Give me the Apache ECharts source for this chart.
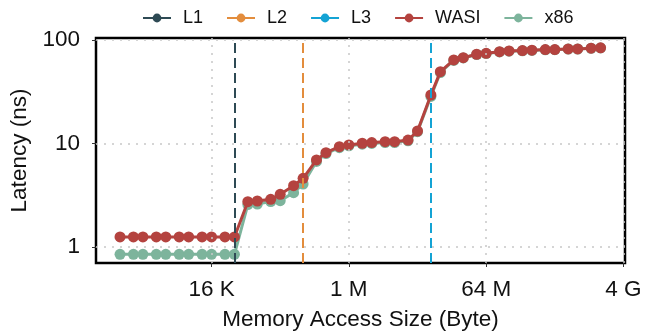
<!DOCTYPE html>
<html>
<head>
<meta charset="utf-8">
<script src="https://cdn.jsdelivr.net/npm/echarts@6/dist/echarts.min.js"></script>
<style>
html,body{margin:0;padding:0;background:#fff;}
#c{width:657px;height:333px;}
</style>
</head>
<body>
<div id="c"></div>
<script>
// Memory access sizes in bytes
const sizes = [1024, 1536, 2048, 3072, 4096, 6144, 8192, 12288, 16384, 24576, 32768,
  49152, 65536, 98304, 131072, 196608, 262144, 393216, 524288, 786432, 1048576,
  1572864, 2097152, 3145728, 4194304, 6291456, 8388608, 12582912, 16777216, 25165824, 33554432,
  50331648, 67108864, 100663296, 134217728, 201326592, 268435456, 402653184, 536870912, 805306368, 1073741824,
  1610612736, 2147483648];
const wasi = [1.25, 1.25, 1.25, 1.25, 1.25, 1.25, 1.25, 1.25, 1.25, 1.25, 1.25,
  2.74, 2.78, 2.89, 3.23, 3.91, 4.61, 6.93, 8.15, 9.31, 9.68,
  10.05, 10.2, 10.4, 10.4, 10.8, 13.2, 29.4, 49.4, 64.1, 67.4,
  72.8, 74.4, 77.1, 78.4, 79.0, 79.6, 80.8, 80.8, 82.0, 82.0,
  83.3, 84.0];
const x86 = [0.85, 0.85, 0.85, 0.85, 0.85, 0.85, 0.85, 0.85, 0.85, 0.85, 0.85,
  2.57, 2.60, 2.75, 2.80, 3.35, 4.06, 6.7, 8.0, 9.1, 9.5,
  9.85, 10.0, 10.2, 10.2, 10.6, 13.0, 28.5, 48.5, 63.5, 67.0,
  72.3, 74.0, 76.7, 78.0, 78.7, 79.3, 80.4, 80.5, 81.6, 81.7,
  83.0, 83.7];
const cacheNames = ['L1', 'L2', 'L3'];
const cacheSizes = [32768, 262144, 12582912];
const xTickValues = [16384, 1048576, 67108864, 4294967296];
const xTickLabels = ['16 K', '1 M', '64 M', '4 G'];
const yTickValues = [1, 10, 100];
const xRange = [494.6, 4.5e9];
const yRange = [0.70, 104.5];

const cacheColors = ['#2e4a54', '#e38d3d', '#14a3d4'];
const FONT = 'Liberation Sans';

const chart = echarts.init(document.getElementById('c'), null, {renderer: 'canvas'});

const series = [];
cacheNames.forEach((n, i) => {
  series.push({
    name: n, type: 'line', data: [], symbol: 'circle', symbolSize: 11,
    itemStyle: {color: cacheColors[i]}, lineStyle: {color: cacheColors[i], width: 3},
    z: 5,
    markLine: {
      silent: true, symbol: 'none', animation: false,
      label: {show: false},
      lineStyle: {color: cacheColors[i], width: 2, type: [10, 5]},
      data: [{xAxis: cacheSizes[i]}]
    }
  });
});
series.push({
  name: 'x86', type: 'line', data: sizes.map((s, i) => [s, x86[i]]),
  symbol: 'circle', symbolSize: 11, z: 2,
  itemStyle: {color: '#7db49c'}, lineStyle: {color: '#7db49c', width: 3}
});
series.push({
  name: 'WASI', type: 'line', data: sizes.map((s, i) => [s, wasi[i]]),
  symbol: 'circle', symbolSize: 11, z: 3,
  itemStyle: {color: '#b4433f'}, lineStyle: {color: '#b4433f', width: 3}
});
// vertical dotted grid lines on x ticks
series.push({
  name: 'grid', type: 'line', data: [], z: 1, silent: true,
  markLine: {
    silent: true, symbol: 'none', animation: false, label: {show: false},
    lineStyle: {color: '#c8c8c8', width: 1.5, type: [2, 6]},
    data: xTickValues.map(v => ({xAxis: v}))
  }
});

chart.setOption({
  animation: false,
  backgroundColor: '#ffffff',
  textStyle: {fontFamily: FONT},
  legend: {
    data: ['L1', 'L2', 'L3', 'WASI', 'x86'],
    left: 137, top: 4,
    itemWidth: 28, itemHeight: 11, itemGap: 23,
    textStyle: {fontFamily: FONT, fontSize: 18, color: '#111', padding: [0, 0, 0, 7]}
  },
  grid: {left: 96, right: 32, top: 38, bottom: 70, show: true, borderColor: '#000', borderWidth: 2.5,
    containLabel: false, outerBoundsMode: 'none'},
  xAxis: {
    type: 'log', logBase: 2, min: xRange[0], max: xRange[1],
    name: 'Memory Access Size (Byte)', nameLocation: 'middle', nameGap: 45,
    nameTextStyle: {fontFamily: FONT, fontSize: 22.5, color: '#111'},
    axisLine: {show: false},
    axisTick: {show: true, length: 4, customValues: xTickValues, lineStyle: {color: '#333', width: 1}},
    axisLabel: {customValues: xTickValues, fontFamily: FONT, fontSize: 22.5, color: '#111', margin: 15,
      formatter: v => { const i = xTickValues.indexOf(v); return i >= 0 ? xTickLabels[i] : ''; }},
    splitLine: {show: false},
    minorTick: {show: false}
  },
  yAxis: {
    type: 'log', logBase: 10, min: yRange[0], max: yRange[1],
    name: 'Latency (ns)', nameLocation: 'middle', nameGap: 46,
    nameTextStyle: {fontFamily: FONT, fontSize: 22.5, color: '#111'},
    axisLine: {show: false},
    axisTick: {show: true, length: 4, customValues: yTickValues, lineStyle: {color: '#333', width: 1}},
    axisLabel: {customValues: yTickValues, fontFamily: FONT, fontSize: 22.5, color: '#111', margin: 16,
      formatter: v => String(v)},
    splitLine: {show: true, lineStyle: {color: '#c8c8c8', width: 1.5, type: [2, 6]}}
  },
  series: series
});
</script>
</body>
</html>
